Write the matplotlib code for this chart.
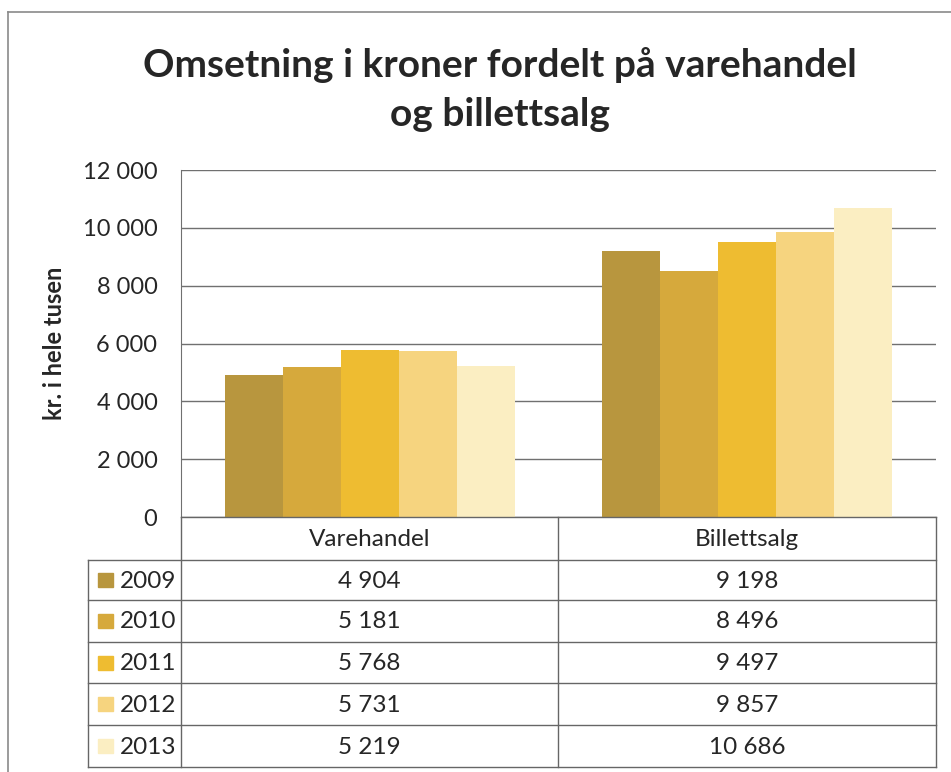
import numpy as np
import matplotlib.pyplot as plt
from matplotlib.patches import Rectangle

# Data
categories = ["Varehandel", "Billettsalg"]
years = ["2009", "2010", "2011", "2012", "2013"]
values = {
    "2009": [4904, 9198],
    "2010": [5181, 8496],
    "2011": [5768, 9497],
    "2012": [5731, 9857],
    "2013": [5219, 10686],
}
yticks = [0, 2000, 4000, 6000, 8000, 10000, 12000]
colors = ["#B8963E", "#D6A93C", "#EEBC31", "#F6D47F", "#FBEEC2"]

plt.rcParams["font.family"] = ["Lato", "DejaVu Sans"]

W, H = 951, 772
fig = plt.figure(figsize=(W / 100, H / 100), dpi=100)


def fx(px):
    return px / W


def fy(py):
    return 1 - py / H


def fmt(v):
    return f"{v:,}".replace(",", " ")


# outer frame (scan shows only left and top edges)
frame = "#8a8a8a"
fig.add_artist(plt.Line2D([fx(8), fx(8)], [fy(12), 0], color=frame, lw=1.2))
fig.add_artist(plt.Line2D([fx(8), 1], [fy(12), fy(12)], color=frame, lw=1.2))

txt = "#262626"
fig.text(fx(500), fy(65), "Omsetning i kroner fordelt på varehandel",
         ha="center", va="center", fontsize=28, fontweight="bold", color=txt)
fig.text(fx(500), fy(115), "og billettsalg",
         ha="center", va="center", fontsize=28, fontweight="bold", color=txt)

# plot area
left, right, top, bottom = 181, 936, 170, 517
ax = fig.add_axes([fx(left), fy(bottom), fx(right - left), (bottom - top) / H])
n = len(years)
bw = 1 / (n + 1.5)
xc = np.arange(len(categories)) + 0.5
for i, yr in enumerate(years):
    ax.bar(xc - 2.5 * bw + i * bw + bw / 2, values[yr], width=bw,
           color=colors[i], align="center", zorder=3)
ax.set_xlim(0, len(categories))
ax.set_ylim(0, 12000)
ax.set_yticks(yticks)
ax.set_yticklabels([fmt(t) for t in yticks], fontsize=17, color=txt)
ax.set_xticks([])
ax.tick_params(axis="y", length=0, pad=17)
ax.grid(axis="y", color="#707070", lw=1, zorder=0)
for s in ["top", "right", "bottom"]:
    ax.spines[s].set_visible(False)
ax.spines["left"].set_color("#707070")
ax.set_ylabel("kr. i hele tusen", fontsize=17, fontweight="bold", color=txt, labelpad=12)

# data table drawn below the plot area
line_c = "#666666"
row_edges = [517, 560, 600, 642, 683, 725, 767]
col_edges = [88, 181, 558, 936]


def hline(y, x0, x1):
    fig.add_artist(plt.Line2D([fx(x0), fx(x1)], [fy(y), fy(y)], color=line_c, lw=1))


def vline(x, y0, y1):
    fig.add_artist(plt.Line2D([fx(x), fx(x)], [fy(y0), fy(y1)], color=line_c, lw=1))


hline(row_edges[0], col_edges[1], col_edges[3])
for y in row_edges[1:]:
    hline(y, col_edges[0], col_edges[3])
vline(col_edges[0], row_edges[1], row_edges[-1])
for x in col_edges[1:]:
    vline(x, row_edges[0], row_edges[-1])

for j, cat in enumerate(categories):
    cx = (col_edges[j + 1] + col_edges[j + 2]) / 2
    fig.text(fx(cx), fy((row_edges[0] + row_edges[1]) / 2 + 1), cat,
             ha="center", va="center", fontsize=17.5, color=txt)

for i, yr in enumerate(years):
    cy = (row_edges[i + 1] + row_edges[i + 2]) / 2
    fig.add_artist(Rectangle((fx(98), fy(cy + 7)), 15 / W, 14 / H,
                             color=colors[i], transform=fig.transFigure))
    fig.text(fx(120), fy(cy + 1), yr, ha="left", va="center", fontsize=17.5, color=txt)
    for j in range(len(categories)):
        cx = (col_edges[j + 1] + col_edges[j + 2]) / 2
        fig.text(fx(cx), fy(cy + 1), fmt(values[yr][j]),
                 ha="center", va="center", fontsize=17.5, color=txt)

fig.savefig("out.png", dpi=100)
